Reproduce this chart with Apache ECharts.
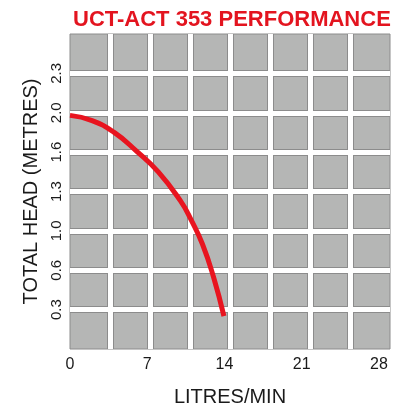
<!DOCTYPE html>
<html>
<head>
<meta charset="utf-8">
<script src="https://cdn.jsdelivr.net/npm/echarts@6/dist/echarts.min.js"></script>
<style>
  html, body { margin: 0; padding: 0; background: #fff; }
  #chart { width: 405px; height: 412px; }
</style>
</head>
<body>
<div id="chart"></div>
<script>
// pump curve, flow (l/min) vs head (m)
const flow = [0, 2, 4, 6, 8, 10, 11, 12, 13, 13.95]
const head = [1.78, 1.74, 1.65, 1.51, 1.35, 1.13, 0.98, 0.8, 0.55, 0.25]
const flowTicks = [0, 7, 14, 21, 28]
const headTicks = ['0.3', '0.6', '1.0', '1.3', '1.6', '2.0', '2.3']

const font = 'Liberation Sans'
const cellAxis = (pos, color, width, z) => ({
  type: 'value', position: pos, min: 0, max: 8, interval: 1, z: z,
  axisLine: { show: false }, axisTick: { show: false }, axisLabel: { show: false },
  splitLine: { show: true, showMinLine: false, showMaxLine: false, lineStyle: { color: color, width: width } }
})

const option = {
  animation: false,
  title: {
    text: 'UCT-ACT 353 PERFORMANCE',
    left: 68, top: 4,
    textStyle: { color: '#e3141f', fontFamily: font, fontWeight: 'bold', fontSize: 22 }
  },
  grid: {
    left: 70, top: 34, right: 15, bottom: 60, z: 0,
    show: true, backgroundColor: '#b5b6b5', borderColor: '#8c8c8c', borderWidth: 1
  },
  xAxis: [
    {
      type: 'value', min: 0, max: 29, interval: 7, z: 3,
      name: 'LITRES/MIN', nameLocation: 'middle', nameGap: 38,
      nameTextStyle: { color: '#1a1a1a', fontFamily: font, fontSize: 20 },
      axisLine: { show: false }, axisTick: { show: false }, splitLine: { show: false },
      axisLabel: {
        color: '#1a1a1a', fontFamily: font, fontSize: 16, margin: 8, showMaxLabel: false,
        formatter: v => flowTicks.includes(v) ? String(v) : ''
      }
    },
    cellAxis('top', '#8c8c8c', 7, 1),
    cellAxis('top', '#ffffff', 5, 2)
  ],
  yAxis: [
    {
      type: 'value', min: 0, max: 2.4, interval: 0.3, z: 3,
      name: 'TOTAL HEAD (METRES)', nameLocation: 'middle', nameGap: 20,
      nameTextStyle: { color: '#1a1a1a', fontFamily: font, fontSize: 20 },
      axisLine: { show: false }, axisTick: { show: false }, splitLine: { show: false },
      axisLabel: {
        color: '#1a1a1a', fontFamily: font, fontSize: 15, rotate: 90, margin: 6,
        formatter: v => {
          const i = Math.round(v / 0.3) - 1
          return headTicks[i] || ''
        }
      }
    },
    cellAxis('right', '#8c8c8c', 7, 1),
    cellAxis('right', '#ffffff', 5, 2)
  ],
  series: [
    {
      type: 'line',
      z: 10,
      smooth: 0.5,
      symbol: 'none',
      lineStyle: { color: '#e8141f', width: 5, cap: 'butt' },
      data: flow.map((f, i) => [f, head[i]])
    }
  ]
}

const chart = echarts.init(document.getElementById('chart'))
chart.setOption(option)
</script>
</body>
</html>
